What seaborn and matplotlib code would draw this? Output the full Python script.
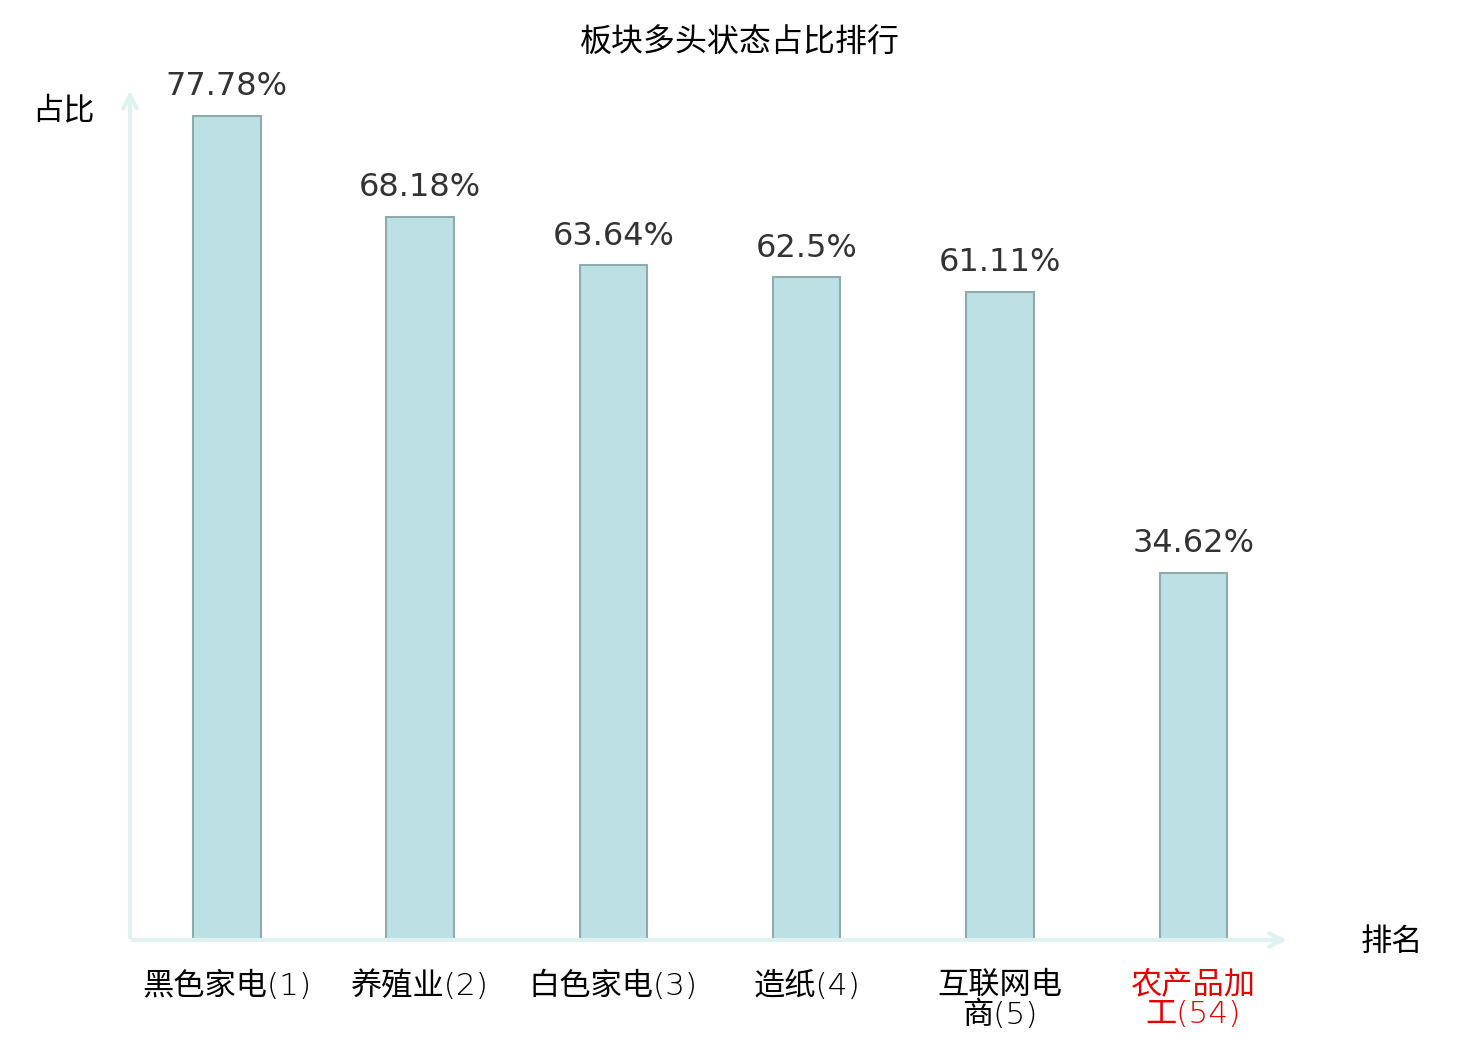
import matplotlib
matplotlib.use("Agg")
import matplotlib.pyplot as plt
import seaborn as sns
import pandas as pd

# %% 数据
sectors = ["黑色家电(1)", "养殖业(2)", "白色家电(3)", "造纸(4)", "互联网电\n商(5)", "农产品加\n工(54)"]
ratios = [77.78, 68.18, 63.64, 62.5, 61.11, 34.62]
label_colors = ["black", "black", "black", "black", "black", "#e60000"]

df = pd.DataFrame({"sector": sectors, "ratio": ratios})

# %% 样式
sns.set_theme(style="white")
plt.rcParams["font.family"] = ["Noto Sans CJK SC", "DejaVu Sans"]
plt.rcParams["text.color"] = "black"

fig = plt.figure(figsize=(14.8, 10.4), dpi=100)
ax = fig.add_axes([130 / 1480, 100 / 1040, 1160 / 1480, 848 / 1040])

sns.barplot(data=df, x="sector", y="ratio", ax=ax, color="#bce0e3",
            edgecolor="#8fabab", linewidth=1.5, width=0.35, saturation=1)

ax.set_xlim(-0.5, 5.5)
ax.set_ylim(0, 80)
ax.set_xlabel("")
ax.set_ylabel("")
ax.set_yticks([])
for s in ax.spines.values():
    s.set_visible(False)

ax.tick_params(axis="x", length=0, pad=22)
for lab, c in zip(ax.get_xticklabels(), label_colors):
    lab.set_color(c)
    lab.set_linespacing(1.0)
    lab.set_fontsize(22.5)
    lab.set_fontweight("light")
    lab.set_family(["DejaVu Sans", "Noto Sans CJK SC"])

# %% 数值标签
ax.bar_label(ax.containers[0], labels=[f"{v:g}%" for v in ratios], padding=10,
             fontsize=23, color="#333333", family="DejaVu Sans")

# %% 坐标轴箭头
arrow_kw = dict(arrowstyle="->,head_length=0.8,head_width=0.4", color="#dff2ef", lw=3)
ax.annotate("", xy=(1, 0), xytext=(0, 0), xycoords="axes fraction",
            arrowprops=arrow_kw, annotation_clip=False)
ax.annotate("", xy=(0, 1.005), xytext=(0, 0), xycoords="axes fraction",
            arrowprops=arrow_kw, annotation_clip=False)

# %% 文本
fig.text(0.5, 1 - 43 / 1040, "板块多头状态占比排行", ha="center", va="center", fontsize=23)
fig.text(63 / 1480, 1 - 110 / 1040, "占比", ha="center", va="center", fontsize=22.5)
fig.text(1392 / 1480, 1 - 942 / 1040, "排名", ha="center", va="center", fontsize=22.5)

fig.savefig("out.png", dpi=100)
